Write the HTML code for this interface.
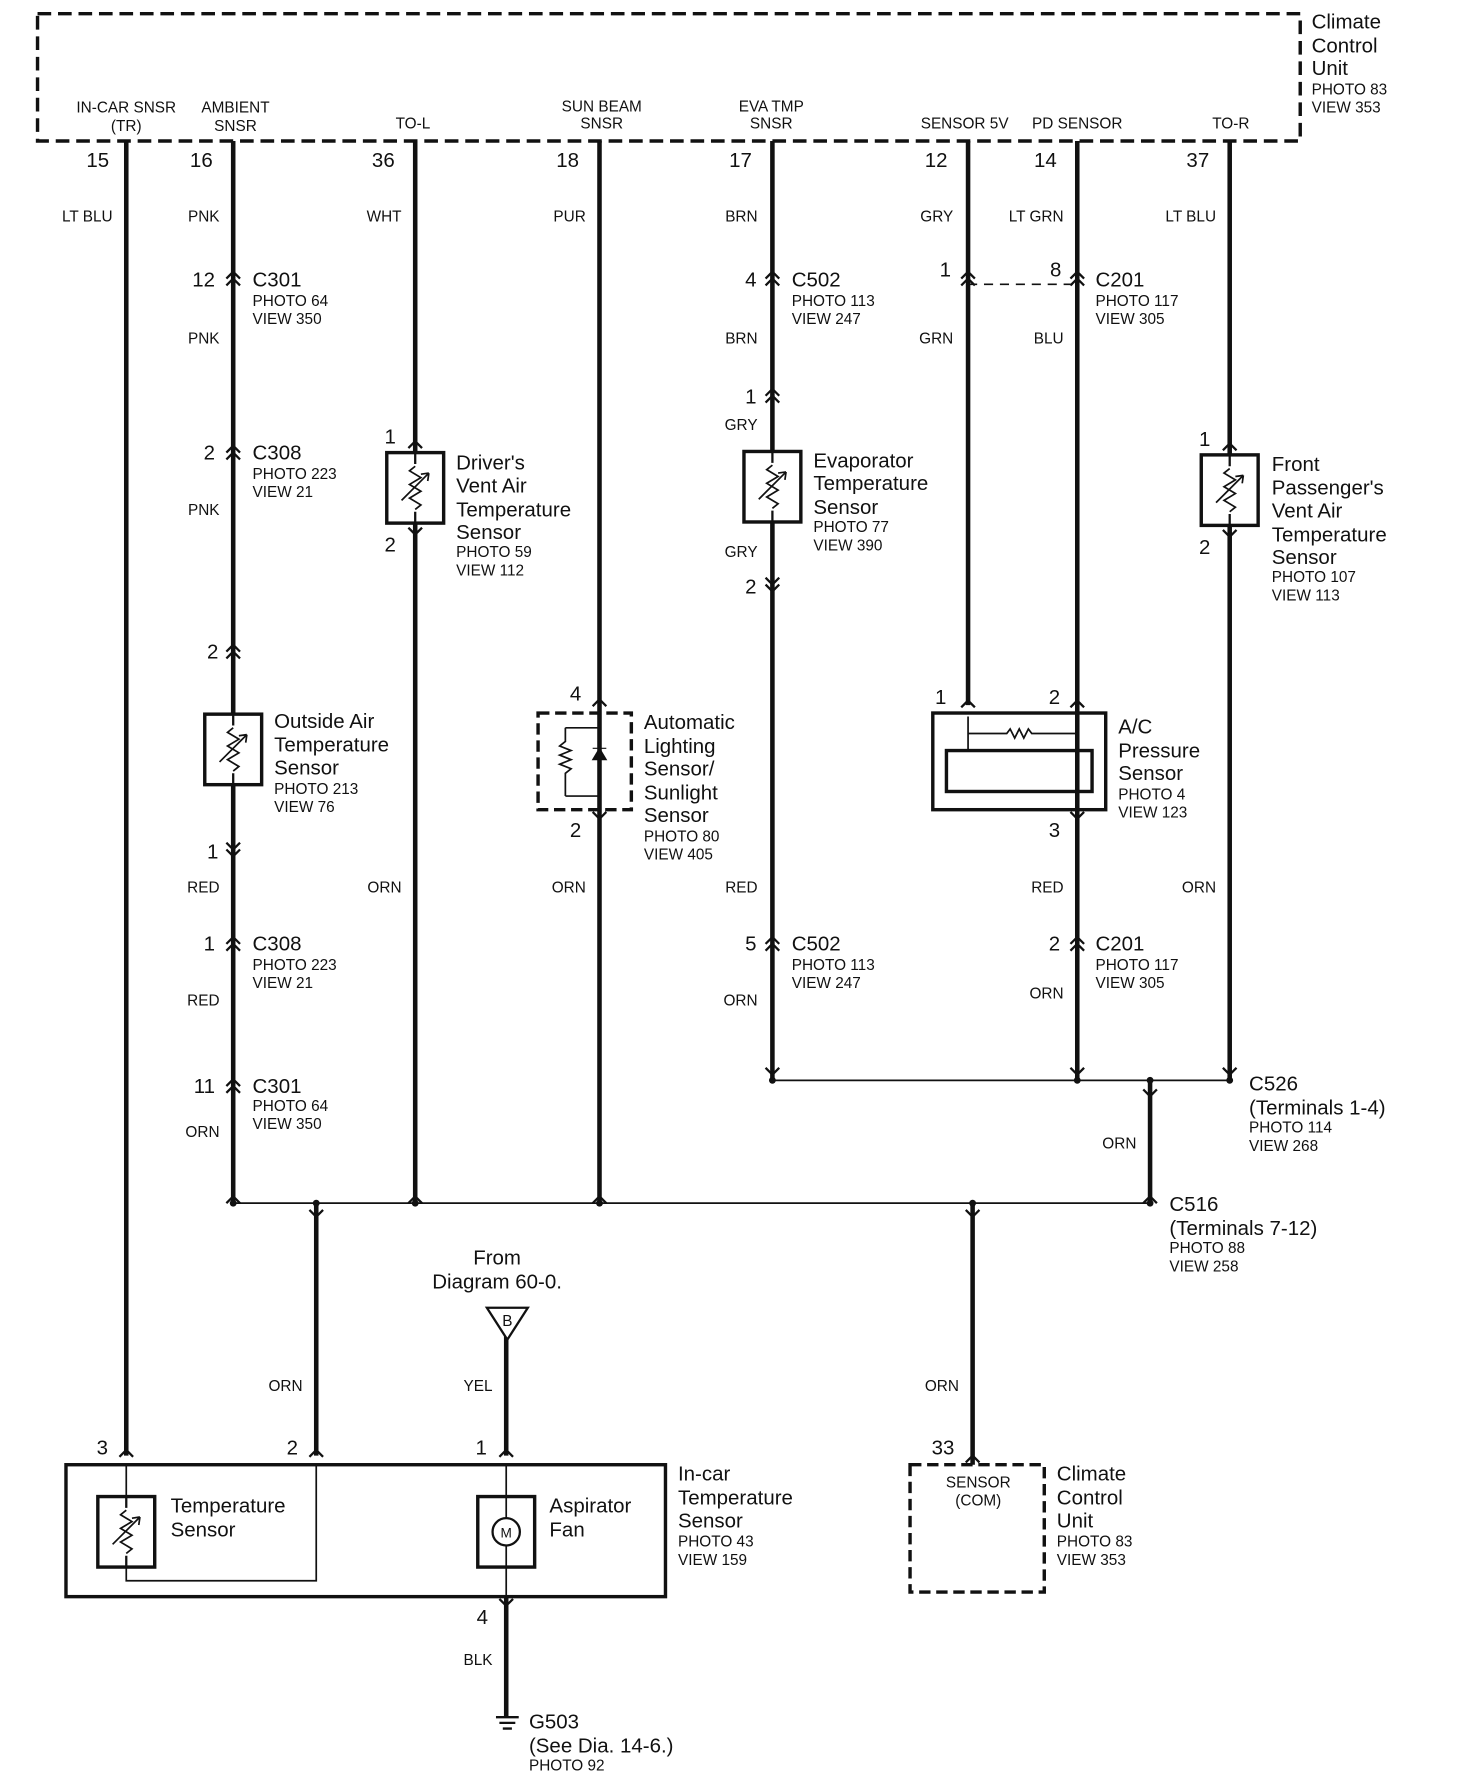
<!DOCTYPE html>
<html><head><meta charset="utf-8"><style>
html,body{margin:0;padding:0;background:#fff}
svg{display:block}
text{font-family:"Liberation Sans",sans-serif;fill:#111}
.b{font-size:18px}.s{font-size:13.5px}.m{font-size:15px}
</style></head><body>
<svg width="1472" height="1782" viewBox="0 0 1294 1567" preserveAspectRatio="none" xmlns="http://www.w3.org/2000/svg">
<defs>
<g id="c"><path d="M-6 3 L0 -3 L6 3 M-6 9 L0 3 L6 9" fill="none" stroke="#111" stroke-width="2"/></g>
<g id="d"><path d="M-6 -3 L0 3 L6 -3 M-6 -9 L0 -3 L6 -9" fill="none" stroke="#111" stroke-width="2"/></g>
<g id="up"><path d="M-6 6 L0 0 L6 6" fill="none" stroke="#111" stroke-width="2"/></g>
<g id="dn"><path d="M-6 -6 L0 0 L6 -6" fill="none" stroke="#111" stroke-width="2"/></g>
<g id="th"><rect x="-25" y="0" width="50" height="62" fill="#fff" stroke="#111" stroke-width="3"/><path d="M0 0 V10 M0 52 V62" stroke="#111" stroke-width="2"/><path d="M0 12 l-5 4 l10 6 l-10 6 l10 6 l-10 6 l10 6 l-5 4" fill="none" stroke="#111" stroke-width="1.5"/><path d="M-12 42 L12 18 M12 18 l-7 1 M12 18 l-1 7" stroke="#111" stroke-width="1.5" fill="none"/></g>
</defs>
<rect x="33" y="12" width="1110" height="112" fill="none" stroke="#111" stroke-width="3" stroke-dasharray="12,6"/>
<g class="b"><text x="1153" y="25">Climate</text><text x="1153" y="46">Control</text><text x="1153" y="66">Unit</text></g>
<g class="s"><text x="1153" y="83">PHOTO 83</text><text x="1153" y="99">VIEW 353</text></g>
<g class="s" text-anchor="middle">
<text x="111" y="99">IN-CAR SNSR</text><text x="111" y="115">(TR)</text>
<text x="207" y="99">AMBIENT</text><text x="207" y="115">SNSR</text>
<text x="363" y="113">TO-L</text>
<text x="529" y="98">SUN BEAM</text><text x="529" y="113">SNSR</text>
<text x="678" y="98">EVA TMP</text><text x="678" y="113">SNSR</text>
<text x="848" y="113">SENSOR 5V</text><text x="947" y="113">PD SENSOR</text><text x="1082" y="113">TO-R</text>
</g>
<g class="b" text-anchor="end">
<text x="96" y="147">15</text><text x="187" y="147">16</text><text x="347" y="147">36</text><text x="509" y="147">18</text><text x="661" y="147">17</text><text x="833" y="147">12</text><text x="929" y="147">14</text><text x="1063" y="147">37</text>
</g>
<g stroke="#111" stroke-width="4" fill="none">
<path d="M111 124V1280M205 124V1058M365 124V1058M527 124V1058M679 124V950M851 124V620M947 124V950M1081 124V950"/>
<path d="M278 1058V1280M855 1058V1288M1011 950V1058M445 1175V1280M445 1404V1510"/>
</g>
<path d="M205 1058H1011M679 950H1081" stroke="#111" stroke-width="1.5"/>
<path d="M851 250H947" stroke="#111" stroke-width="1.5" stroke-dasharray="8,6"/>
<g fill="#111"><circle cx="205" cy="1058" r="3"/><circle cx="278" cy="1058" r="3"/><circle cx="365" cy="1058" r="3"/><circle cx="527" cy="1058" r="3"/><circle cx="855" cy="1058" r="3"/><circle cx="1011" cy="1058" r="3"/><circle cx="679" cy="950" r="3"/><circle cx="947" cy="950" r="3"/><circle cx="1011" cy="950" r="3"/><circle cx="1081" cy="950" r="3"/></g>
<use href="#c" x="205" y="242"/><use href="#c" x="205" y="395"/><use href="#c" x="205" y="570"/><use href="#d" x="205" y="750"/><use href="#c" x="205" y="827"/><use href="#c" x="205" y="952"/>
<use href="#c" x="679" y="242"/><use href="#c" x="679" y="345"/><use href="#d" x="679" y="517"/><use href="#c" x="679" y="827"/>
<use href="#c" x="851" y="242"/><use href="#c" x="947" y="242"/><use href="#c" x="947" y="827"/>
<use href="#up" x="365" y="388"/><use href="#dn" x="365" y="470"/><use href="#up" x="1081" y="390"/><use href="#dn" x="1081" y="472"/>
<use href="#up" x="527" y="615"/><use href="#dn" x="527" y="720"/><use href="#up" x="851" y="616"/><use href="#up" x="947" y="616"/><use href="#dn" x="947" y="720"/>
<use href="#dn" x="679" y="945"/><use href="#dn" x="947" y="945"/><use href="#dn" x="1081" y="945"/><use href="#up" x="205" y="1052"/><use href="#up" x="365" y="1052"/><use href="#up" x="527" y="1052"/><use href="#up" x="1011" y="1052"/><use href="#dn" x="1011" y="964"/><use href="#dn" x="278" y="1070"/><use href="#dn" x="855" y="1070"/>
<use href="#up" x="111" y="1275"/><use href="#up" x="278" y="1275"/><use href="#up" x="445" y="1275"/><use href="#up" x="855" y="1280"/><use href="#dn" x="445" y="1412"/>
<use href="#th" x="365" y="398"/><use href="#th" x="679" y="397"/><use href="#th" x="1081" y="400"/><use href="#th" x="205" y="628"/>
<rect x="473" y="627" width="82" height="85" fill="none" stroke="#111" stroke-width="3" stroke-dasharray="10,5"/>
<path d="M497 640H527V700H497M497 640V652 l-5 4 l10 4 l-10 4 l10 4 l-10 4 l10 4 l-5 4 V700M527 640V700" fill="none" stroke="#111" stroke-width="1.5"/>
<path d="M521 668 H533 L527 658Z M521 658H533" fill="#111" stroke="#111" stroke-width="1"/>
<rect x="820" y="627" width="152" height="85" fill="none" stroke="#111" stroke-width="3"/>
<rect x="832" y="660" width="128" height="36" fill="none" stroke="#111" stroke-width="3"/>
<path d="M851 630V660M947 630V660M851 645H885 l3 -4 l4 8 l4 -8 l4 8 l4 -8 l3 4H947M947 696V712" fill="none" stroke="#111" stroke-width="1.5"/>
<rect x="58" y="1288" width="527" height="116" fill="none" stroke="#111" stroke-width="3"/>
<use href="#th" x="111" y="1316"/>
<path d="M111 1288V1316M111 1378V1390H278V1288" fill="none" stroke="#111" stroke-width="1.5"/>
<rect x="420" y="1316" width="50" height="62" fill="#fff" stroke="#111" stroke-width="3"/>
<circle cx="445" cy="1347" r="12" fill="#fff" stroke="#111" stroke-width="2"/><text x="445" y="1352" text-anchor="middle" style="font-size:12px">M</text>
<path d="M445 1288V1335M445 1359V1404" stroke="#111" stroke-width="1.5"/>
<path d="M428 1150H464L446 1178Z" fill="#fff" stroke="#111" stroke-width="2"/><text x="446" y="1166" text-anchor="middle" class="s">B</text>
<rect x="800" y="1288" width="118" height="112" fill="none" stroke="#111" stroke-width="3" stroke-dasharray="10,5"/>
<path d="M436 1510H456M439 1515H453M442 1520H450" stroke="#111" stroke-width="2"/>
<g class="b">
<text x="222" y="252">C301</text><text x="222" y="404">C308</text><text x="222" y="836">C308</text><text x="222" y="961">C301</text>
<text x="696" y="252">C502</text><text x="696" y="836">C502</text><text x="963" y="252">C201</text><text x="963" y="836">C201</text>
<text x="401" y="413">Driver's</text><text x="401" y="433">Vent Air</text><text x="401" y="454">Temperature</text><text x="401" y="474">Sensor</text>
<text x="715" y="411">Evaporator</text><text x="715" y="431">Temperature</text><text x="715" y="452">Sensor</text>
<text x="1118" y="414">Front</text><text x="1118" y="435">Passenger's</text><text x="1118" y="455">Vent Air</text><text x="1118" y="476">Temperature</text><text x="1118" y="496">Sensor</text>
<text x="241" y="640">Outside Air</text><text x="241" y="661">Temperature</text><text x="241" y="681">Sensor</text>
<text x="566" y="641">Automatic</text><text x="566" y="662">Lighting</text><text x="566" y="682">Sensor/</text><text x="566" y="703">Sunlight</text><text x="566" y="723">Sensor</text>
<text x="983" y="645">A/C</text><text x="983" y="666">Pressure</text><text x="983" y="686">Sensor</text>
<text x="1098" y="959">C526</text><text x="1098" y="980">(Terminals 1-4)</text>
<text x="1028" y="1065">C516</text><text x="1028" y="1086">(Terminals 7-12)</text>
<text x="437" y="1112" text-anchor="middle">From</text><text x="437" y="1133" text-anchor="middle">Diagram 60-0.</text>
<text x="150" y="1330">Temperature</text><text x="150" y="1351">Sensor</text>
<text x="483" y="1330">Aspirator</text><text x="483" y="1351">Fan</text>
<text x="596" y="1302">In-car</text><text x="596" y="1323">Temperature</text><text x="596" y="1343">Sensor</text>
<text x="929" y="1302">Climate</text><text x="929" y="1323">Control</text><text x="929" y="1343">Unit</text>
<text x="465" y="1520">G503</text><text x="465" y="1541">(See Dia. 14-6.)</text>
</g>
<g class="s">
<text x="222" y="269">PHOTO 64</text><text x="222" y="285">VIEW 350</text>
<text x="222" y="421">PHOTO 223</text><text x="222" y="437">VIEW 21</text>
<text x="222" y="853">PHOTO 223</text><text x="222" y="869">VIEW 21</text>
<text x="222" y="977">PHOTO 64</text><text x="222" y="993">VIEW 350</text>
<text x="696" y="269">PHOTO 113</text><text x="696" y="285">VIEW 247</text>
<text x="696" y="853">PHOTO 113</text><text x="696" y="869">VIEW 247</text>
<text x="963" y="269">PHOTO 117</text><text x="963" y="285">VIEW 305</text>
<text x="963" y="853">PHOTO 117</text><text x="963" y="869">VIEW 305</text>
<text x="401" y="490">PHOTO 59</text><text x="401" y="506">VIEW 112</text>
<text x="715" y="468">PHOTO 77</text><text x="715" y="484">VIEW 390</text>
<text x="1118" y="512">PHOTO 107</text><text x="1118" y="528">VIEW 113</text>
<text x="241" y="698">PHOTO 213</text><text x="241" y="714">VIEW 76</text>
<text x="566" y="740">PHOTO 80</text><text x="566" y="756">VIEW 405</text>
<text x="983" y="703">PHOTO 4</text><text x="983" y="719">VIEW 123</text>
<text x="1098" y="996">PHOTO 114</text><text x="1098" y="1012">VIEW 268</text>
<text x="1028" y="1102">PHOTO 88</text><text x="1028" y="1118">VIEW 258</text>
<text x="596" y="1360">PHOTO 43</text><text x="596" y="1376">VIEW 159</text>
<text x="929" y="1360">PHOTO 83</text><text x="929" y="1376">VIEW 353</text>
<text x="465" y="1557">PHOTO 92</text>
<text x="860" y="1308" text-anchor="middle">SENSOR</text><text x="860" y="1324" text-anchor="middle">(COM)</text>
</g>
<g class="s" text-anchor="end">
<text x="99" y="195">LT BLU</text><text x="193" y="195">PNK</text><text x="353" y="195">WHT</text><text x="515" y="195">PUR</text><text x="666" y="195">BRN</text><text x="838" y="195">GRY</text><text x="935" y="195">LT GRN</text><text x="1069" y="195">LT BLU</text>
<text x="193" y="302">PNK</text><text x="666" y="302">BRN</text><text x="838" y="302">GRN</text><text x="935" y="302">BLU</text>
<text x="193" y="453">PNK</text><text x="666" y="378">GRY</text><text x="666" y="490">GRY</text>
<text x="193" y="785">RED</text><text x="353" y="785">ORN</text><text x="515" y="785">ORN</text><text x="666" y="785">RED</text><text x="935" y="785">RED</text><text x="1069" y="785">ORN</text>
<text x="193" y="884">RED</text><text x="666" y="884">ORN</text><text x="935" y="878">ORN</text><text x="193" y="1000">ORN</text><text x="999" y="1010">ORN</text>
<text x="266" y="1223">ORN</text><text x="433" y="1223">YEL</text><text x="843" y="1223">ORN</text><text x="433" y="1464">BLK</text>
</g>
<g class="b" text-anchor="end">
<text x="189" y="252">12</text><text x="189" y="404">2</text><text x="192" y="579">2</text><text x="192" y="755">1</text><text x="189" y="836">1</text><text x="189" y="961">11</text>
<text x="348" y="390">1</text><text x="348" y="485">2</text><text x="665" y="252">4</text><text x="665" y="355">1</text><text x="665" y="522">2</text><text x="665" y="836">5</text>
<text x="836" y="243">1</text><text x="933" y="243">8</text><text x="1064" y="392">1</text><text x="1064" y="487">2</text>
<text x="511" y="616">4</text><text x="511" y="736">2</text><text x="832" y="619">1</text><text x="932" y="619">2</text><text x="932" y="736">3</text><text x="932" y="836">2</text>
<text x="95" y="1279">3</text><text x="262" y="1279">2</text><text x="428" y="1279">1</text><text x="839" y="1279">33</text><text x="429" y="1428">4</text>
</g>
</svg>
</body></html>
